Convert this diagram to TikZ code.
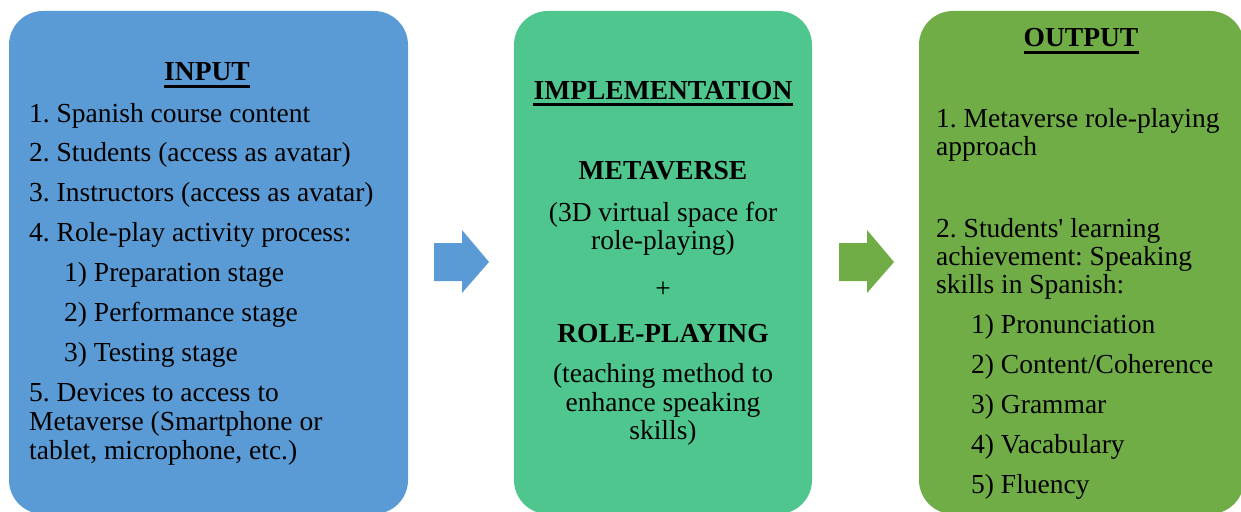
\documentclass[tikz,border=0pt]{standalone}
\usepackage{fontspec}
\setmainfont{Liberation Serif}[Ligatures=TeXOff]
\definecolor{boxblue}{HTML}{5B9BD5}
\definecolor{boxgreen}{HTML}{4FC68E}
\definecolor{boxolive}{HTML}{70AD47}
\frenchspacing
\begin{document}
\begin{tikzpicture}[x=1pt,y=-1pt,
  txt/.style={inner sep=0pt, anchor=base west, font=\fontsize{27.5}{29}\selectfont},
  ctxt/.style={inner sep=0pt, anchor=base, font=\fontsize{27.5}{29}\selectfont},
  head/.style={inner sep=0pt, anchor=base, font=\fontsize{27.5}{29}\selectfont\bfseries},
  panel/.style={rounded corners=34pt},
  uline/.style={line width=2.6pt}]
\useasboundingbox (0,0) rectangle (1241,511);
% panels
\fill[boxblue,panel] (9,11) rectangle (408,514);
\fill[boxgreen,panel] (514,11) rectangle (812,514);
\fill[boxolive,panel] (919,11) rectangle (1244,514);
% arrows
\fill[boxblue] (434,243) -- (462,243) -- (462,230) -- (489,262) -- (462,293) -- (462,281) -- (434,281) -- cycle;
\fill[boxolive] (839,243) -- (867,243) -- (867,230) -- (894,262) -- (867,293) -- (867,281) -- (839,281) -- cycle;
% INPUT
\node[head] (inp) at (207,81) {INPUT};
\draw[uline] ([yshift=-5.5pt]inp.base west) -- ([yshift=-5.5pt]inp.base east);
\node[txt] (i1) at (29,122) {1. Spanish course content};
\node[txt] (i2) at (29,161) {2. Students (access as avatar)};
\node[txt] (i3) at (29,201) {3. Instructors (access as avatar)};
\node[txt] (i4) at (29,241) {4. Role-play activity process:};
\node[txt] (i41) at (64,281) {1) Preparation stage};
\node[txt] (i42) at (64,321) {2) Performance stage};
\node[txt] (i43) at (64,361) {3) Testing stage};
\node[txt] (i5a) at (29,401) {5. Devices to access to};
\node[txt] (i5b) at (29,430) {Metaverse (Smartphone or};
\node[txt] (i5c) at (29,459) {tablet, microphone, etc.)};
% IMPLEMENTATION
\node[head] (imp) at (663,99) {IMPLEMENTATION};
\draw[uline] ([yshift=-5.5pt]imp.base west) -- ([yshift=-5.5pt]imp.base east);
\node[head] (meta) at (663,179) {METAVERSE};
\node[ctxt] (m1) at (663,221) {(3D virtual space for};
\node[ctxt] (m2) at (663,249) {role-playing)};
\node[ctxt] (plus) at (663,297) {+};
\node[head] (role) at (663,342) {ROLE-PLAYING};
\node[ctxt] (r1) at (663,382) {(teaching method to};
\node[ctxt] (r2) at (663,411) {enhance speaking};
\node[ctxt] (r3) at (663,439) {skills)};
% OUTPUT
\node[head] (out) at (1081,47) {OUTPUT};
\draw[uline] ([yshift=-5.5pt]out.base west) -- ([yshift=-5.5pt]out.base east);
\node[txt] (o1a) at (936,127) {1. Metaverse role-playing};
\node[txt] (o1b) at (936,155) {approach};
\node[txt] (o2a) at (936,237) {2. Students' learning};
\node[txt] (o2b) at (936,265) {achievement: Speaking};
\node[txt] (o2c) at (936,293) {skills in Spanish:};
\node[txt] (s1) at (971,333) {1) Pronunciation};
\node[txt] (s2) at (971,373) {2) Content/Coherence};
\node[txt] (s3) at (971,413) {3) Grammar};
\node[txt] (s4) at (971,453) {4) Vacabulary};
\node[txt] (s5) at (971,493) {5) Fluency};
\end{tikzpicture}
\end{document}
